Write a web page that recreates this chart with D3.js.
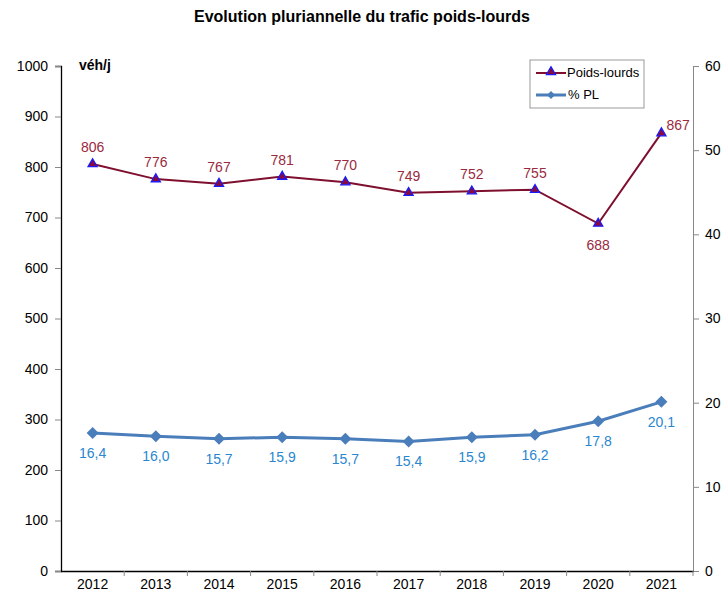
<!DOCTYPE html>
<meta charset="utf-8">
<script src="https://d3js.org/d3.v7.min.js"></script>
<style>
  body { margin: 0; background: #fff; }
  text { font-family: "Liberation Sans", Arial, sans-serif; }
</style>
<div id="chart"></div>
<script>

// data
var years = ["2012", "2013", "2014", "2015", "2016", "2017", "2018", "2019", "2020", "2021"];
var poidsLourds = [806, 776, 767, 781, 770, 749, 752, 755, 688, 867];
var pctPL = [16.4, 16.0, 15.7, 15.9, 15.7, 15.4, 15.9, 16.2, 17.8, 20.1];
var leftTicks = [0, 100, 200, 300, 400, 500, 600, 700, 800, 900, 1000];
var rightTicks = [0, 10, 20, 30, 40, 50, 60];

var W = 724, H = 593;
var margin = {top: 66, right: 31, bottom: 22, left: 61};
var width = W - margin.left - margin.right,
    height = H - margin.top - margin.bottom;

var redLine = "#7f0f2e", redText = "#9a2a40", blueLine = "#4a7ebb", blueText = "#2a86cf";

var svg = d3.select("#chart").append("svg")
    .attr("width", W)
    .attr("height", H);

svg.append("text")
    .attr("x", 362).attr("y", 22)
    .attr("text-anchor", "middle")
    .style("font-size", "16px").style("font-weight", "bold")
    .text("Evolution pluriannelle du trafic poids-lourds");

var g = svg.append("g")
    .attr("transform", "translate(" + margin.left + "," + margin.top + ")");

var x = d3.scaleBand().domain(years).range([0, width]);
var y = d3.scaleLinear().domain([0, 1000]).range([height, 0]);
var y2 = d3.scaleLinear().domain([0, 60]).range([height, 0]);
var cx = function(d, i) { return x(years[i]) + x.bandwidth() / 2; };

// left axis
var yAxis = g.append("g").call(d3.axisLeft(y).tickValues(leftTicks).tickFormat(d3.format("d")).tickSize(6).tickPadding(7));
yAxis.select(".domain").attr("stroke", "#000").attr("stroke-width", 1.3);
yAxis.selectAll(".tick line").attr("stroke", "#888");
yAxis.selectAll("text").style("font-size", "14px").attr("fill", "#000");

// right axis
var y2Axis = g.append("g").attr("transform", "translate(" + width + ",0)")
    .call(d3.axisRight(y2).tickValues(rightTicks).tickSize(6).tickPadding(6));
y2Axis.select(".domain").attr("stroke", "#888");
y2Axis.selectAll(".tick line").attr("stroke", "#888");
y2Axis.selectAll("text").style("font-size", "14px").attr("fill", "#000");

// x axis
var xAxis = g.append("g").attr("transform", "translate(0," + height + ")")
    .call(d3.axisBottom(x).tickSize(0).tickPadding(8));
xAxis.select(".domain").attr("stroke", "#000").attr("stroke-width", 1.3);
xAxis.selectAll("text").style("font-size", "14px").attr("fill", "#000");
xAxis.selectAll(".sep")
    .data(d3.range(1, years.length + 1))
    .enter().append("line")
    .attr("x1", function(k) { return k * x.step(); })
    .attr("x2", function(k) { return k * x.step(); })
    .attr("y1", 0).attr("y2", 5)
    .attr("stroke", "#888");

g.append("text")
    .attr("x", 18).attr("y", 4)
    .style("font-size", "14px").style("font-weight", "bold")
    .text("véh/j");

// % PL line
var diamond = "M0,-6L6,0L0,6L-6,0Z";
var line2 = d3.line().x(cx).y(function(d) { return y2(d); });
g.append("path").datum(pctPL)
    .attr("d", line2)
    .attr("fill", "none").attr("stroke", blueLine).attr("stroke-width", 3);
g.selectAll(".diam").data(pctPL).enter().append("path")
    .attr("d", diamond)
    .attr("transform", function(d, i) { return "translate(" + cx(d, i) + "," + y2(d) + ")"; })
    .attr("fill", blueLine);
g.selectAll(".lblB").data(pctPL).enter().append("text")
    .attr("x", cx)
    .attr("y", function(d) { return y2(d) + 25; })
    .attr("text-anchor", "middle")
    .style("font-size", "14px").attr("fill", blueText)
    .text(function(d) { return d.toFixed(1).replace(".", ","); });

// Poids-lourds line
var line1 = d3.line().x(cx).y(function(d) { return y(d); });
g.append("path").datum(poidsLourds)
    .attr("d", line1)
    .attr("fill", "none").attr("stroke", redLine).attr("stroke-width", 2);
g.selectAll(".tri").data(poidsLourds).enter().append("path")
    .attr("d", d3.symbol().type(d3.symbolTriangle).size(36))
    .attr("transform", function(d, i) { return "translate(" + cx(d, i) + "," + y(d) + ")"; })
    .attr("fill", "#8a0a3a").attr("stroke", "#1a1aff").attr("stroke-width", 1.3);
g.selectAll(".lblR").data(poidsLourds).enter().append("text")
    .attr("x", function(d, i) { return i === years.length - 1 ? cx(d, i) + 5 : cx(d, i); })
    .attr("y", function(d, i) {
      if (i === years.length - 1) return y(d) - 3;
      if (i === 8) return y(d) + 26;
      return y(d) - 12;
    })
    .attr("text-anchor", function(d, i) { return i === years.length - 1 ? "start" : "middle"; })
    .style("font-size", "14px").attr("fill", redText)
    .text(function(d) { return d; });

// legend
var lg = svg.append("g").attr("transform", "translate(530,60)");
lg.append("rect").attr("width", 114).attr("height", 48)
    .attr("fill", "#fff").attr("stroke", "#999");
lg.append("line").attr("x1", 6).attr("x2", 36).attr("y1", 13).attr("y2", 13)
    .attr("stroke", redLine).attr("stroke-width", 2);
lg.append("path").attr("d", d3.symbol().type(d3.symbolTriangle).size(36))
    .attr("transform", "translate(21,12)")
    .attr("fill", "#8a0a3a").attr("stroke", "#1a1aff").attr("stroke-width", 1.3);
lg.append("text").attr("x", 37).attr("y", 17).style("font-size", "13px").text("Poids-lourds");
lg.append("line").attr("x1", 6).attr("x2", 36).attr("y1", 35).attr("y2", 35)
    .attr("stroke", blueLine).attr("stroke-width", 3);
lg.append("path").attr("d", "M0,-4L4,0L0,4L-4,0Z")
    .attr("transform", "translate(21,35)").attr("fill", blueLine);
lg.append("text").attr("x", 38).attr("y", 39).style("font-size", "13px").text("% PL");

</script>
